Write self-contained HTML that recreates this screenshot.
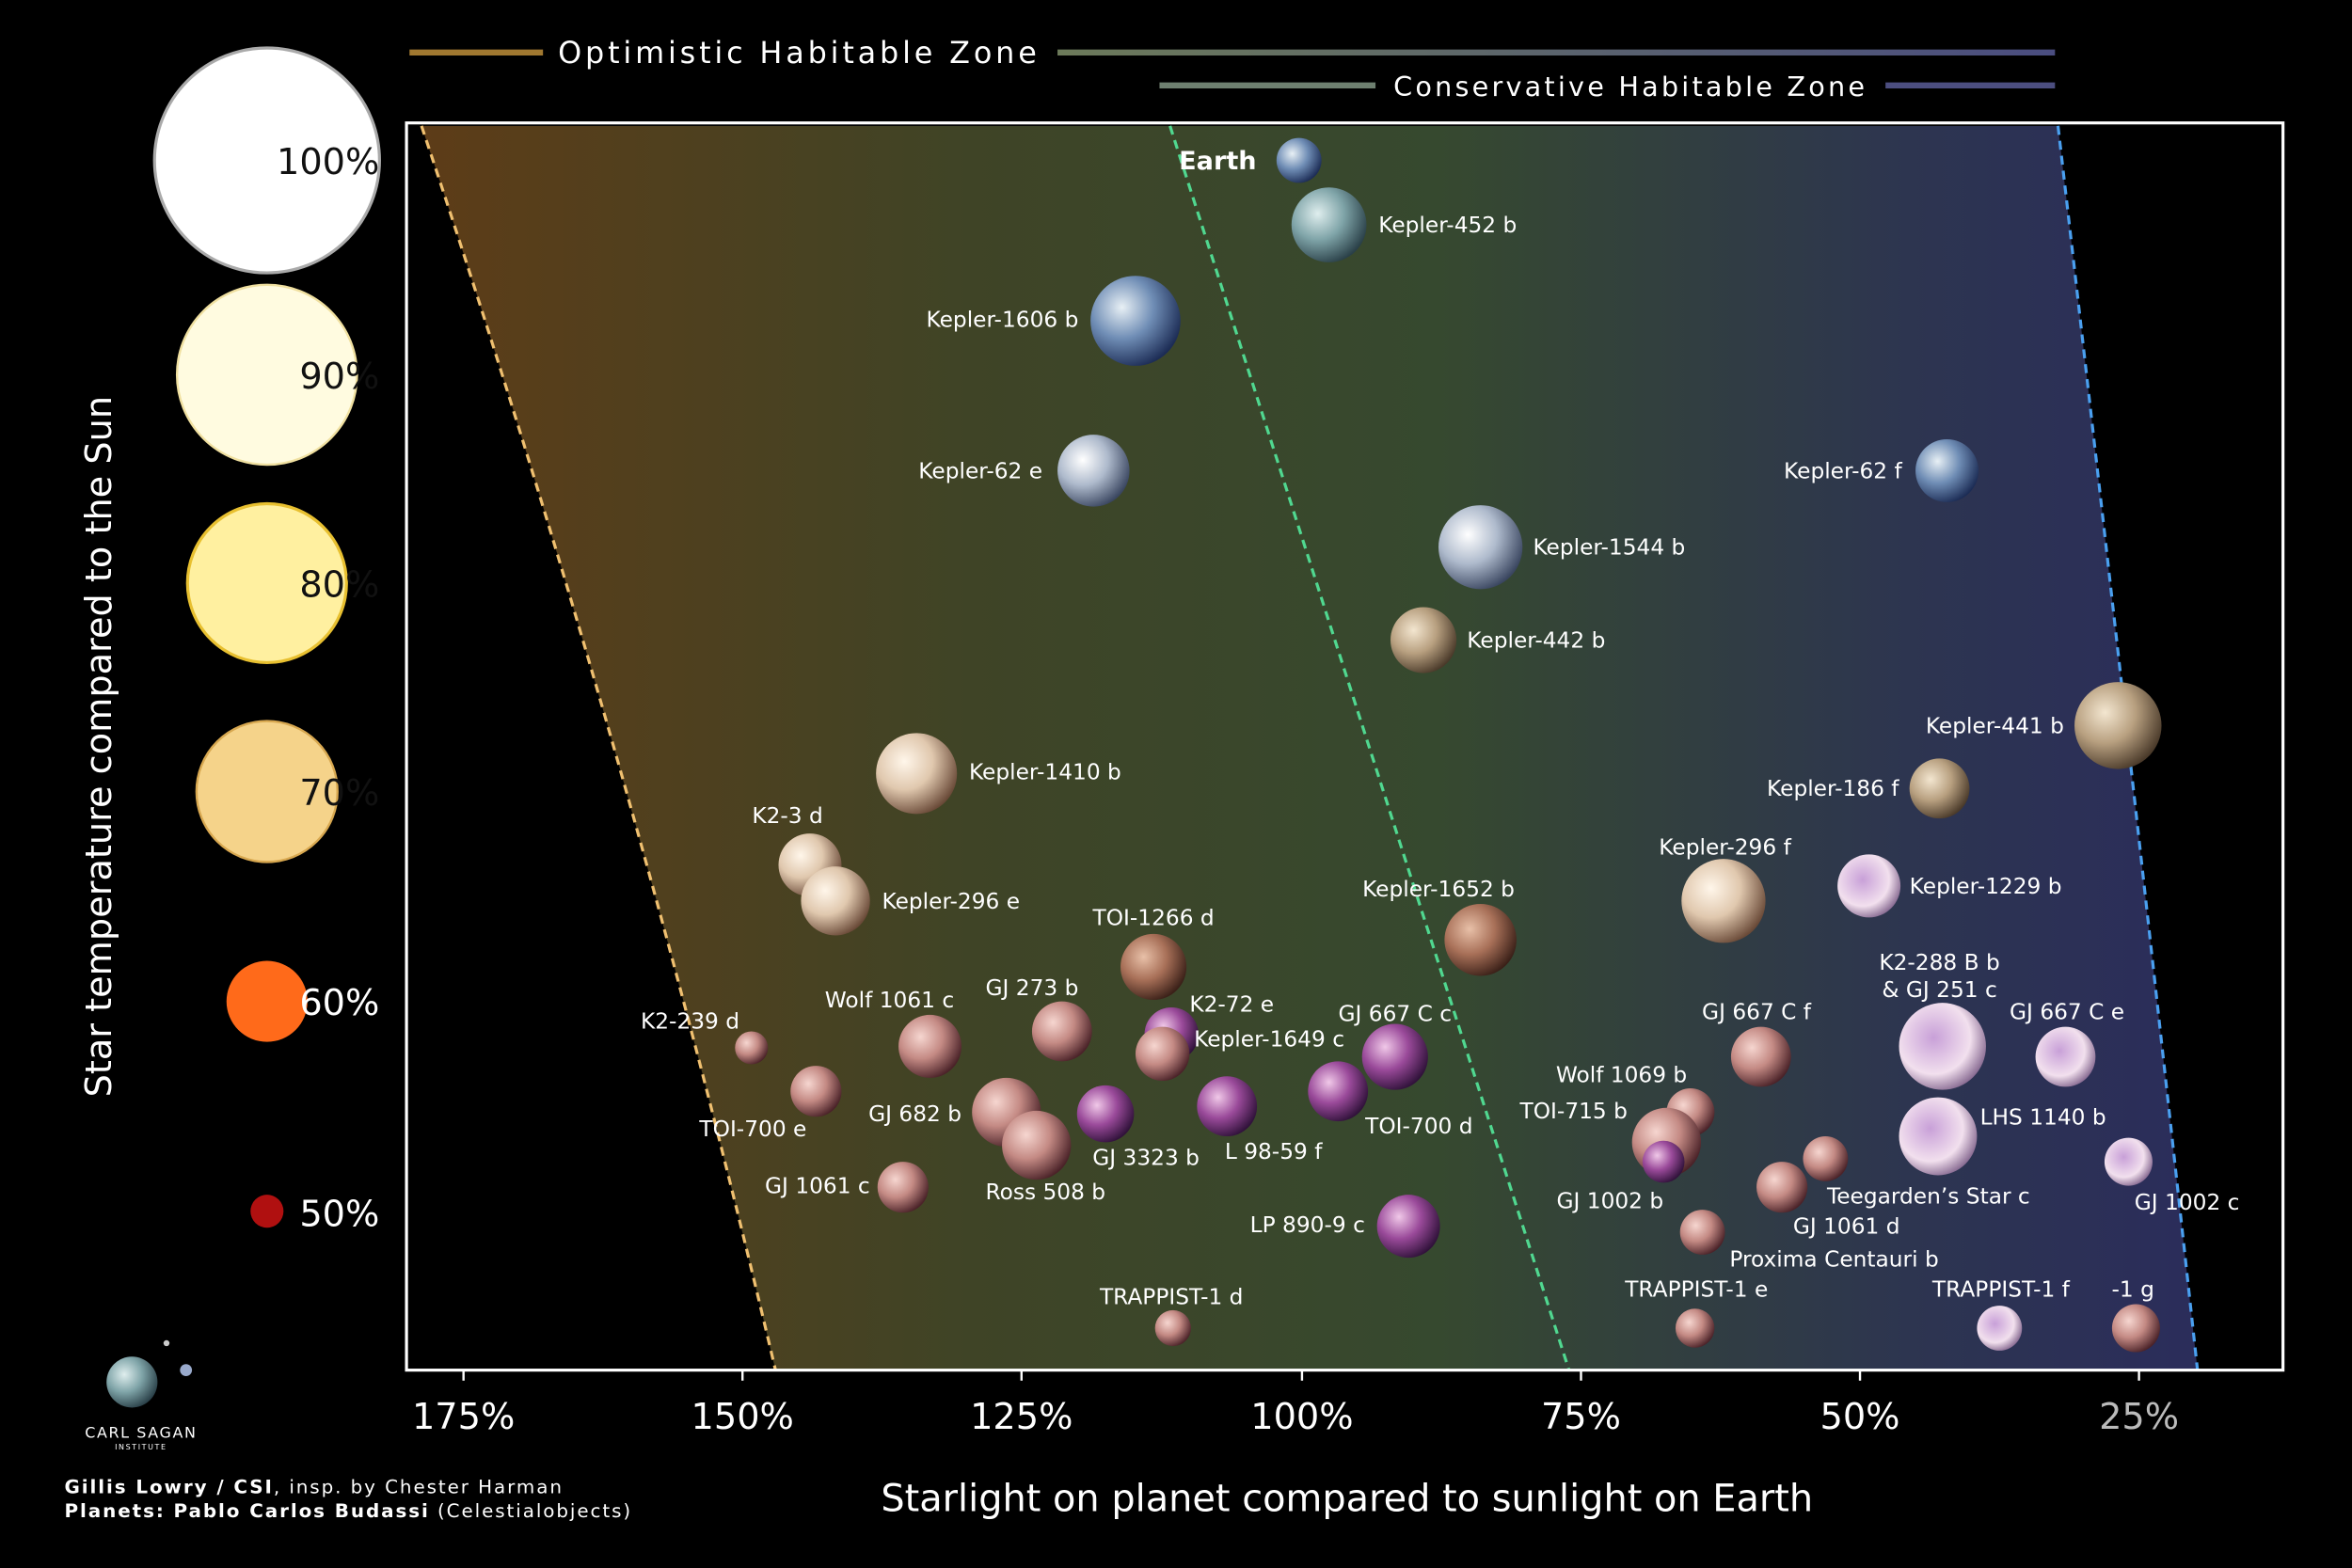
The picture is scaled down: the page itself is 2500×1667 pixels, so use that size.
<!DOCTYPE html>
<html><head><meta charset="utf-8"><style>
html,body{margin:0;padding:0;background:#000;}
svg{display:block}
text{font-family:"DejaVu Sans","Liberation Sans",sans-serif;fill:#fff}
</style></head><body>
<svg width="2500" height="1667" viewBox="0 0 1568 1046" preserveAspectRatio="none" xmlns="http://www.w3.org/2000/svg">
<defs>
<linearGradient id="bg" x1="271" x2="1522" y1="0" y2="0" gradientUnits="userSpaceOnUse">
<stop offset="0" stop-color="#5e3c17"/><stop offset="0.3" stop-color="#3f4426"/>
<stop offset="0.55" stop-color="#36492f"/><stop offset="0.8" stop-color="#2d3550"/>
<stop offset="1" stop-color="#2a2a5e"/></linearGradient>
<linearGradient id="lg1" x1="705" x2="1370" y1="0" y2="0" gradientUnits="userSpaceOnUse"><stop offset="0" stop-color="#6c7a5a"/><stop offset="1" stop-color="#4a4d80"/></linearGradient>
<clipPath id="hz"><path d="M281,84 Q420,500 517,914 L1465,914 Q1420,500 1372,84 Z"/></clipPath>
<radialGradient id="gblue" cx="0.35" cy="0.35" r="0.7"><stop offset="0" stop-color="#e8f0f5"/><stop offset="0.5" stop-color="#6f8db5"/><stop offset="1" stop-color="#1c2c55"/></radialGradient>
<radialGradient id="gteal" cx="0.35" cy="0.35" r="0.7"><stop offset="0" stop-color="#dfeeee"/><stop offset="0.5" stop-color="#7fa4a8"/><stop offset="1" stop-color="#2a4048"/></radialGradient>
<radialGradient id="gwb" cx="0.35" cy="0.35" r="0.7"><stop offset="0" stop-color="#ffffff"/><stop offset="0.5" stop-color="#aebacc"/><stop offset="1" stop-color="#3a4660"/></radialGradient>
<radialGradient id="gtan" cx="0.35" cy="0.35" r="0.7"><stop offset="0" stop-color="#f3e6d0"/><stop offset="0.5" stop-color="#b8a080"/><stop offset="1" stop-color="#4a3a2a"/></radialGradient>
<radialGradient id="gpale" cx="0.35" cy="0.35" r="0.7"><stop offset="0" stop-color="#fff6ea"/><stop offset="0.5" stop-color="#e0c8ae"/><stop offset="1" stop-color="#6a4a38"/></radialGradient>
<radialGradient id="gpink" cx="0.35" cy="0.35" r="0.7"><stop offset="0" stop-color="#f6d6d0"/><stop offset="0.5" stop-color="#c48a84"/><stop offset="1" stop-color="#4a2228"/></radialGradient>
<radialGradient id="gpur" cx="0.35" cy="0.35" r="0.7"><stop offset="0" stop-color="#f0c8e8"/><stop offset="0.5" stop-color="#9a4a9a"/><stop offset="1" stop-color="#30123a"/></radialGradient>
<radialGradient id="gpw" cx="0.4" cy="0.4" r="0.7"><stop offset="0" stop-color="#c8a0d8"/><stop offset="0.6" stop-color="#f2e0ee"/><stop offset="1" stop-color="#6a4a78"/></radialGradient>
<radialGradient id="gbr" cx="0.35" cy="0.35" r="0.7"><stop offset="0" stop-color="#e8c0a8"/><stop offset="0.5" stop-color="#a87058"/><stop offset="1" stop-color="#3a2018"/></radialGradient>
</defs>
<rect width="1568" height="1046" fill="#000"/>
<rect x="271" y="82" width="1251" height="832" fill="url(#bg)" clip-path="url(#hz)"/>
<path d="M281,84 Q420,500 517,914" fill="none" stroke="#f0c070" stroke-width="2" stroke-dasharray="6,4"/>
<path d="M780,84 L1046,914" fill="none" stroke="#50d890" stroke-width="2" stroke-dasharray="6,4"/>
<path d="M1372,84 Q1420,500 1465,914" fill="none" stroke="#4aa0f0" stroke-width="2" stroke-dasharray="6,4"/>
<rect x="271" y="82" width="1251" height="832" fill="none" stroke="#fff" stroke-width="2"/>
<g stroke="#fff" stroke-width="1.5">
<line x1="309" y1="914" x2="309" y2="921"/><line x1="495" y1="914" x2="495" y2="921"/><line x1="681" y1="914" x2="681" y2="921"/><line x1="868" y1="914" x2="868" y2="921"/><line x1="1054" y1="914" x2="1054" y2="921"/><line x1="1240" y1="914" x2="1240" y2="921"/><line x1="1426" y1="914" x2="1426" y2="921"/>
</g>
<g font-size="24" text-anchor="middle">
<text x="309" y="953">175%</text><text x="495" y="953">150%</text><text x="681" y="953">125%</text><text x="868" y="953">100%</text><text x="1054" y="953">75%</text><text x="1240" y="953">50%</text><text x="1426" y="953" style="fill:#bbb">25%</text>
</g>
<text x="898" y="1008" font-size="25" text-anchor="middle">Starlight on planet compared to sunlight on Earth</text>
<text transform="translate(74,498) rotate(-90)" font-size="24" text-anchor="middle">Star temperature compared to the Sun</text>
<line x1="273" y1="35" x2="362" y2="35" stroke="#a07830" stroke-width="4"/>
<text x="372" y="42" font-size="20" letter-spacing="2.4">Optimistic Habitable Zone</text>
<line x1="705" y1="35" x2="1370" y2="35" stroke="url(#lg1)" stroke-width="4"/>
<line x1="773" y1="57" x2="917" y2="57" stroke="#6e8070" stroke-width="4"/>
<text x="929" y="64" font-size="18" letter-spacing="2">Conservative Habitable Zone</text>
<line x1="1257" y1="57" x2="1370" y2="57" stroke="#4c4e80" stroke-width="4"/>
<circle cx="178" cy="107" r="75" fill="#fff" stroke="#aaa" stroke-width="2"/>
<circle cx="178" cy="250" r="60" fill="#fffbe0" stroke="#f0e0a0" stroke-width="1.5"/>
<circle cx="178" cy="389" r="53" fill="#fff0a0" stroke="#e8c030" stroke-width="2"/>
<circle cx="178" cy="528" r="47" fill="#f5d38a" stroke="#d8a850" stroke-width="1.5"/>
<circle cx="178" cy="668" r="27" fill="#ff6a1a"/>
<circle cx="178" cy="808" r="11" fill="#b01010"/>
<g font-size="24" text-anchor="end">
<text x="253" y="116" style="fill:#111">100%</text><text x="253" y="259" style="fill:#111">90%</text><text x="253" y="398" style="fill:#111">80%</text><text x="253" y="537" style="fill:#111">70%</text><text x="253" y="677">60%</text><text x="253" y="818">50%</text>
</g>
<g>
<circle cx="866" cy="107" r="15" fill="url(#gblue)"/>
<circle cx="886" cy="150" r="25" fill="url(#gteal)"/>
<circle cx="757" cy="214" r="30" fill="url(#gblue)"/>
<circle cx="729" cy="314" r="24" fill="url(#gwb)"/>
<circle cx="1298" cy="314" r="21" fill="url(#gblue)"/>
<circle cx="987" cy="365" r="28" fill="url(#gwb)"/>
<circle cx="949" cy="427" r="22" fill="url(#gtan)"/>
<circle cx="1412" cy="484" r="29" fill="url(#gtan)"/>
<circle cx="1293" cy="526" r="20" fill="url(#gtan)"/>
<circle cx="611" cy="516" r="27" fill="url(#gpale)"/>
<circle cx="540" cy="577" r="21" fill="url(#gpale)"/>
<circle cx="557" cy="601" r="23" fill="url(#gpale)"/>
<circle cx="1149" cy="601" r="28" fill="url(#gpale)"/>
<circle cx="1246" cy="591" r="21" fill="url(#gpw)"/>
<circle cx="987" cy="627" r="24" fill="url(#gbr)"/>
<circle cx="769" cy="645" r="22" fill="url(#gbr)"/>
<circle cx="501" cy="699" r="11" fill="url(#gpink)"/>
<circle cx="620" cy="698" r="21" fill="url(#gpink)"/>
<circle cx="708" cy="688" r="20" fill="url(#gpink)"/>
<circle cx="781" cy="690" r="18" fill="url(#gpur)"/>
<circle cx="775" cy="703" r="18" fill="url(#gpink)"/>
<circle cx="930" cy="705" r="22" fill="url(#gpur)"/>
<circle cx="544" cy="728" r="17" fill="url(#gpink)"/>
<circle cx="671" cy="742" r="23" fill="url(#gpink)"/>
<circle cx="691" cy="764" r="23" fill="url(#gpink)"/>
<circle cx="737" cy="743" r="19" fill="url(#gpur)"/>
<circle cx="818" cy="738" r="20" fill="url(#gpur)"/>
<circle cx="892" cy="728" r="20" fill="url(#gpur)"/>
<circle cx="602" cy="792" r="17" fill="url(#gpink)"/>
<circle cx="939" cy="818" r="21" fill="url(#gpur)"/>
<circle cx="782" cy="886" r="12" fill="url(#gpink)"/>
<circle cx="1174" cy="705" r="20" fill="url(#gpink)"/>
<circle cx="1127" cy="742" r="16" fill="url(#gpink)"/>
<circle cx="1111" cy="762" r="23" fill="url(#gpink)"/>
<circle cx="1109" cy="775" r="14" fill="url(#gpur)"/>
<circle cx="1135" cy="822" r="15" fill="url(#gpink)"/>
<circle cx="1188" cy="792" r="17" fill="url(#gpink)"/>
<circle cx="1217" cy="773" r="15" fill="url(#gpink)"/>
<circle cx="1295" cy="698" r="29" fill="url(#gpw)"/>
<circle cx="1377" cy="705" r="20" fill="url(#gpw)"/>
<circle cx="1292" cy="758" r="26" fill="url(#gpw)"/>
<circle cx="1419" cy="775" r="16" fill="url(#gpw)"/>
<circle cx="1130" cy="886" r="13" fill="url(#gpink)"/>
<circle cx="1333" cy="886" r="15" fill="url(#gpw)"/>
<circle cx="1424" cy="886" r="16" fill="url(#gpink)"/>
</g>
<g font-size="14.6">
<text x="786" y="113" font-weight="bold" font-size="17">Earth</text>
<text x="919" y="155">Kepler-452 b</text>
<text x="719" y="218" text-anchor="end">Kepler-1606 b</text>
<text x="695" y="319" text-anchor="end">Kepler-62 e</text>
<text x="1268" y="319" text-anchor="end">Kepler-62 f</text>
<text x="1022" y="370">Kepler-1544 b</text>
<text x="978" y="432">Kepler-442 b</text>
<text x="1376" y="489" text-anchor="end">Kepler-441 b</text>
<text x="1266" y="531" text-anchor="end">Kepler-186 f</text>
<text x="646" y="520">Kepler-1410 b</text>
<text x="525" y="549" text-anchor="middle">K2-3 d</text>
<text x="588" y="606">Kepler-296 e</text>
<text x="1150" y="570" text-anchor="middle">Kepler-296 f</text>
<text x="1273" y="596">Kepler-1229 b</text>
<text x="959" y="598" text-anchor="middle">Kepler-1652 b</text>
<text x="769" y="617" text-anchor="middle">TOI-1266 d</text>
<text x="493" y="686" text-anchor="end">K2-239 d</text>
<text x="593" y="672" text-anchor="middle">Wolf 1061 c</text>
<text x="688" y="664" text-anchor="middle">GJ 273 b</text>
<text x="793" y="675">K2-72 e</text>
<text x="796" y="698">Kepler-1649 c</text>
<text x="930" y="681" text-anchor="middle">GJ 667 C c</text>
<text x="502" y="758" text-anchor="middle">TOI-700 e</text>
<text x="641" y="748" text-anchor="end">GJ 682 b</text>
<text x="697" y="800" text-anchor="middle">Ross 508 b</text>
<text x="764" y="777" text-anchor="middle">GJ 3323 b</text>
<text x="849" y="773" text-anchor="middle">L 98-59 f</text>
<text x="946" y="756" text-anchor="middle">TOI-700 d</text>
<text x="580" y="796" text-anchor="end">GJ 1061 c</text>
<text x="910" y="822" text-anchor="end">LP 890-9 c</text>
<text x="781" y="870" text-anchor="middle">TRAPPIST-1 d</text>
<text x="1171" y="680" text-anchor="middle">GJ 667 C f</text>
<text x="1081" y="722" text-anchor="middle">Wolf 1069 b</text>
<text x="1085" y="746" text-anchor="end">TOI-715 b</text>
<text x="1109" y="806" text-anchor="end">GJ 1002 b</text>
<text x="1231" y="823" text-anchor="middle">GJ 1061 d</text>
<text x="1218" y="803">Teegarden’s Star c</text>
<text x="1153" y="845">Proxima Centauri b</text>
<text x="1293" y="647" text-anchor="middle">K2-288 B b</text>
<text x="1293" y="665" text-anchor="middle">&amp; GJ 251 c</text>
<text x="1378" y="680" text-anchor="middle">GJ 667 C e</text>
<text x="1320" y="750">LHS 1140 b</text>
<text x="1458" y="807" text-anchor="middle">GJ 1002 c</text>
<text x="1131" y="865" text-anchor="middle">TRAPPIST-1 e</text>
<text x="1334" y="865" text-anchor="middle">TRAPPIST-1 f</text>
<text x="1422" y="865" text-anchor="middle">-1 g</text>
</g>
<circle cx="88" cy="922" r="17" fill="url(#gteal)"/>
<circle cx="124" cy="914" r="4" fill="#9ac"/>
<circle cx="111" cy="896" r="2" fill="#ccc"/>
<text x="94" y="959" font-size="10" text-anchor="middle" letter-spacing="1">CARL SAGAN</text>
<text x="94" y="967" font-size="5" text-anchor="middle" letter-spacing="1">INSTITUTE</text>
<text x="43" y="996" font-size="12.5" letter-spacing="1.2"><tspan font-weight="bold">Gillis Lowry / CSI</tspan>, insp. by Chester Harman</text>
<text x="43" y="1012" font-size="12.5" letter-spacing="1.2"><tspan font-weight="bold">Planets: Pablo Carlos Budassi</tspan> (Celestialobjects)</text>
</svg>
</body></html>
